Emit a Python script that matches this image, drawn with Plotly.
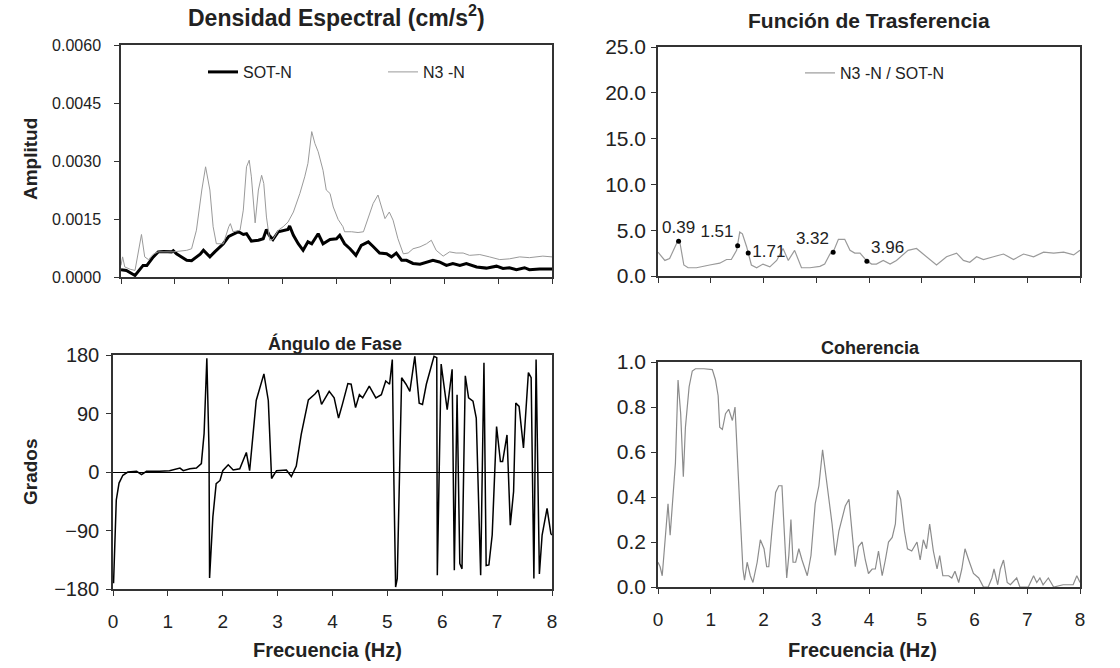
import plotly.graph_objects as go

# ---------------- data ----------------
sot_f = [0.0, 0.10, 0.26, 0.35, 0.41, 0.48, 0.60, 0.69, 0.79, 0.94, 0.97, 1.03, 1.22, 1.31, 1.47, 1.53,
         1.65, 1.74, 1.90, 2.00, 2.08, 2.18, 2.27, 2.33, 2.42, 2.55, 2.64, 2.70, 2.75, 2.82, 2.92, 3.01,
         3.10, 3.13, 3.20, 3.29, 3.38, 3.47, 3.54, 3.66, 3.75, 3.88, 4.00, 4.06, 4.15, 4.25, 4.36, 4.46,
         4.59, 4.68, 4.80, 4.93, 5.02, 5.11, 5.21, 5.30, 5.42, 5.55, 5.64, 5.79, 5.91, 6.04, 6.16, 6.29,
         6.41, 6.60, 6.78, 6.97, 7.09, 7.21, 7.34, 7.49, 7.58, 7.77, 8.00]
sot_a = [0.00019, 0.00017, 0.00004, 0.00020, 0.00030, 0.00030, 0.00052, 0.00065, 0.00066, 0.00065,
         0.00068, 0.00060, 0.00043, 0.00042, 0.00059, 0.00069, 0.00052, 0.00065, 0.00086, 0.00105,
         0.00110, 0.00117, 0.00110, 0.00112, 0.00093, 0.00095, 0.00099, 0.00123, 0.00108, 0.00097,
         0.00117, 0.00121, 0.00123, 0.00132, 0.00108, 0.00086, 0.00069, 0.00091, 0.00086, 0.00112,
         0.00086, 0.00097, 0.00099, 0.00108, 0.00086, 0.00073, 0.00056, 0.00082, 0.00091, 0.00079,
         0.00062, 0.00060, 0.00052, 0.00062, 0.00043, 0.00043, 0.00035, 0.00033, 0.00037, 0.00043,
         0.00039, 0.00030, 0.00035, 0.00030, 0.00035, 0.00026, 0.00023, 0.00028, 0.00022, 0.00024,
         0.00019, 0.00024, 0.00019, 0.00021, 0.00021]

n3_f = [0.0, 0.03, 0.07, 0.17, 0.26, 0.32, 0.38, 0.44, 0.51, 0.60, 0.69, 0.97, 1.22, 1.31, 1.40, 1.50,
        1.57, 1.65, 1.71, 1.77, 1.90, 2.00, 2.03, 2.08, 2.21, 2.27, 2.33, 2.38, 2.42, 2.49, 2.55, 2.61,
        2.65, 2.70, 2.76, 2.82, 2.92, 3.01, 3.10, 3.20, 3.32, 3.41, 3.47, 3.54, 3.60, 3.66, 3.75, 3.81,
        3.88, 3.94, 4.03, 4.12, 4.15, 4.28, 4.40, 4.50, 4.59, 4.68, 4.77, 4.83, 4.90, 4.98, 5.05, 5.14,
        5.24, 5.33, 5.42, 5.55, 5.67, 5.76, 5.85, 5.98, 6.10, 6.22, 6.35, 6.47, 6.66, 6.84, 7.03, 7.21,
        7.40, 7.58, 7.83, 8.00]
n3_a = [0.00030, 0.00052, 0.00026, 0.00020, 0.00017, 0.00069, 0.00110, 0.00052, 0.00045, 0.00059,
        0.00065, 0.00065, 0.00069, 0.00073, 0.00121, 0.00225, 0.00285, 0.00225, 0.00130, 0.00086,
        0.00086, 0.00130, 0.00138, 0.00117, 0.00121, 0.00173, 0.00285, 0.00302, 0.00259, 0.00140,
        0.00225, 0.00263, 0.00242, 0.00155, 0.00095, 0.00097, 0.00121, 0.00130, 0.00142, 0.00168,
        0.00216, 0.00259, 0.00294, 0.00376, 0.00345, 0.00324, 0.00276, 0.00225, 0.00216, 0.00181,
        0.00149, 0.00130, 0.00117, 0.00117, 0.00115, 0.00117, 0.00155, 0.00190, 0.00212, 0.00186,
        0.00151, 0.00168, 0.00147, 0.00099, 0.00060, 0.00062, 0.00073, 0.00078, 0.00086, 0.00095,
        0.00069, 0.00054, 0.00065, 0.00062, 0.00062, 0.00056, 0.00058, 0.00052, 0.00045, 0.00047,
        0.00052, 0.00050, 0.00054, 0.00052]

tf_f = [0.0, 0.13, 0.22, 0.32, 0.38, 0.42, 0.49, 0.57, 0.73, 0.98, 1.17, 1.30, 1.39, 1.49, 1.55, 1.60,
        1.68, 1.77, 1.87, 1.99, 2.12, 2.25, 2.37, 2.47, 2.59, 2.72, 2.88, 3.07, 3.16, 3.26, 3.32, 3.42,
        3.54, 3.64, 3.73, 3.83, 3.95, 4.05, 4.14, 4.27, 4.40, 4.52, 4.65, 4.74, 4.90, 5.09, 5.28, 5.47,
        5.66, 5.79, 5.91, 6.04, 6.17, 6.36, 6.55, 6.74, 6.93, 7.12, 7.31, 7.50, 7.69, 7.88, 8.00]
tf_v = [2.6, 1.7, 1.9, 3.2, 3.9, 3.5, 1.2, 0.9, 0.9, 1.2, 1.4, 1.8, 1.8, 2.8, 4.8, 4.6,
        3.2, 1.2, 0.9, 1.3, 1.0, 1.7, 3.0, 1.7, 2.8, 0.9, 0.9, 1.05, 1.3, 2.4, 2.6, 4.0,
        4.0, 2.8, 2.5, 2.5, 1.7, 1.3, 1.3, 1.7, 1.3, 1.7, 2.4, 2.8, 3.0, 2.1, 1.2, 2.1,
        2.5, 1.7, 1.5, 2.1, 1.8, 2.1, 2.4, 1.8, 2.4, 2.1, 2.6, 2.5, 2.6, 2.3, 2.8]

peak_f = [0.39, 1.51, 1.71, 3.32, 3.96]
peak_v = [3.8, 3.3, 2.5, 2.6, 1.6]
peak_labels = ["0.39", "1.51", "1.71", "3.32", "3.96"]

ph_f = [0.01, 0.03, 0.06, 0.11, 0.18, 0.27, 0.43, 0.52, 0.61, 0.85, 1.03, 1.22, 1.28, 1.40, 1.52, 1.61,
        1.66, 1.71, 1.75, 1.76, 1.82, 1.88, 1.95, 2.00, 2.10, 2.19, 2.31, 2.43, 2.49, 2.61, 2.75, 2.83,
        2.89, 2.98, 3.16, 3.25, 3.34, 3.43, 3.56, 3.68, 3.74, 3.80, 3.88, 3.94, 4.03, 4.11, 4.18, 4.28,
        4.34, 4.42, 4.49, 4.55, 4.67, 4.79, 4.89, 4.97, 5.04, 5.09, 5.12, 5.15, 5.18, 5.26, 5.34, 5.41,
        5.50, 5.58, 5.64, 5.71, 5.85, 5.90, 5.91, 5.98, 6.09, 6.18, 6.22, 6.27, 6.32, 6.36, 6.42, 6.48,
        6.56, 6.62, 6.70, 6.76, 6.80, 6.85, 6.91, 6.99, 7.06, 7.10, 7.18, 7.24, 7.30, 7.34, 7.40, 7.48,
        7.57, 7.62, 7.67, 7.71, 7.77, 7.82, 7.91, 7.98, 8.00]
ph_d = [-171, -120, -43, -17, -5, 0, 1, -4, 1, 1, 2, 6, 2, 5, 6, 13,
        59, 175, 33, -163, -69, -18, -13, 2, 11, 3, 5, 30, 2, 110, 151, 110,
        -10, 2, 3, -7, 9, 58, 111, 120, 126, 104, 115, 124, 114, 83, 104, 136,
        135, 99, 119, 114, 132, 114, 119, 140, 135, 173, -20, -177, -164, 145, 135, 124,
        178, 106, 104, 135, 178, 176, -159, 166, 96, 158, -151, 119, -141, -149, 148, 114,
        109, 83, -159, 168, -144, -143, -97, 70, 16, 16, 57, -82, -30, 106, 101, 37,
        153, 145, -164, 173, -157, -97, -56, -95, -97]

coh_f = [0.0, 0.04, 0.08, 0.15, 0.19, 0.23, 0.27, 0.33, 0.38, 0.43, 0.48, 0.52, 0.59, 0.65, 0.71, 0.87,
         1.03, 1.09, 1.14, 1.17, 1.22, 1.28, 1.34, 1.41, 1.46, 1.50, 1.56, 1.61, 1.64, 1.69, 1.75, 1.80,
         1.88, 1.94, 2.01, 2.06, 2.10, 2.16, 2.23, 2.29, 2.35, 2.38, 2.44, 2.48, 2.52, 2.56, 2.61, 2.67,
         2.73, 2.83, 2.90, 2.98, 3.05, 3.12, 3.17, 3.24, 3.30, 3.36, 3.43, 3.49, 3.55, 3.62, 3.68, 3.74,
         3.80, 3.87, 3.93, 3.99, 4.06, 4.12, 4.18, 4.25, 4.31, 4.37, 4.44, 4.50, 4.54, 4.60, 4.67, 4.73,
         4.81, 4.91, 4.97, 5.03, 5.09, 5.15, 5.22, 5.29, 5.34, 5.40, 5.51, 5.57, 5.63, 5.70, 5.76, 5.82,
         5.89, 5.98, 6.08, 6.17, 6.26, 6.33, 6.37, 6.44, 6.49, 6.55, 6.62, 6.68, 6.80, 6.86, 7.02, 7.12,
         7.18, 7.24, 7.30, 7.40, 7.50, 7.68, 7.87, 7.94, 8.00]
coh_v = [0.11, 0.09, 0.05, 0.28, 0.37, 0.23, 0.37, 0.55, 0.92, 0.77, 0.49, 0.71, 0.89, 0.96, 0.97, 0.97,
         0.966, 0.92, 0.85, 0.71, 0.70, 0.77, 0.79, 0.74, 0.80, 0.58, 0.31, 0.08, 0.03, 0.11, 0.05, 0.02,
         0.11, 0.21, 0.17, 0.09, 0.09, 0.25, 0.42, 0.45, 0.45, 0.31, 0.04, 0.14, 0.30, 0.11, 0.11, 0.17,
         0.12, 0.05, 0.14, 0.37, 0.45, 0.61, 0.51, 0.39, 0.28, 0.14, 0.25, 0.30, 0.36, 0.39, 0.25, 0.09,
         0.18, 0.20, 0.12, 0.06, 0.08, 0.08, 0.16, 0.05, 0.12, 0.20, 0.22, 0.28, 0.43, 0.39, 0.25, 0.17,
         0.16, 0.20, 0.12, 0.21, 0.17, 0.28, 0.16, 0.08, 0.14, 0.05, 0.05, 0.04, 0.07, 0.02, 0.08, 0.17,
         0.12, 0.06, 0.04, 0.0, 0.0, 0.04, 0.08, 0.01, 0.08, 0.12, 0.02, 0.01, 0.04, 0.0, 0.0, 0.05,
         0.02, 0.04, 0.01, 0.04, 0.0, 0.01, 0.01, 0.05, 0.02]

freq_ticks = [0, 1, 2, 3, 4, 5, 6, 7, 8]

# ---------------- figure ----------------
W, H = 1120, 668
FONT = "Liberation Sans, Arial, sans-serif"
NARROW = "Liberation Sans Narrow, Liberation Sans, Arial, sans-serif"
TXT = "#222"


def px_x(a, b):
    return [a / W, b / W]


def px_y(top, bottom):
    return [1 - bottom / H, 1 - top / H]


fig = go.Figure()

fig.add_trace(go.Scatter(x=sot_f, y=sot_a, mode="lines", name="SOT-N",
                         line=dict(color="black", width=3), xaxis="x", yaxis="y", legend="legend"))
fig.add_trace(go.Scatter(x=n3_f, y=n3_a, mode="lines", name="N3 -N",
                         line=dict(color="#9a9a9a", width=1), xaxis="x", yaxis="y", legend="legend"))

fig.add_trace(go.Scatter(x=tf_f, y=tf_v, mode="lines", name="N3 -N / SOT-N",
                         line=dict(color="#9a9a9a", width=1.2), xaxis="x2", yaxis="y2", legend="legend2"))
fig.add_trace(go.Scatter(x=peak_f, y=peak_v, mode="markers+text", text=peak_labels,
                         textposition=["top center", "top left", "middle right", "top left", "top right"],
                         textfont=dict(family=FONT, size=17, color=TXT),
                         marker=dict(color="black", size=5), showlegend=False,
                         xaxis="x2", yaxis="y2"))

fig.add_trace(go.Scatter(x=ph_f, y=ph_d, mode="lines", showlegend=False,
                         line=dict(color="black", width=1.5), xaxis="x3", yaxis="y3"))

fig.add_trace(go.Scatter(x=coh_f, y=coh_v, mode="lines", showlegend=False,
                         line=dict(color="#8c8c8c", width=1.2), xaxis="x4", yaxis="y4"))


def axis(size, standoff, **kw):
    d = dict(showline=True, mirror=True, linecolor="#333", linewidth=1.5,
             showgrid=False, zeroline=False, ticks="outside", ticklen=5,
             tickcolor="#333", tickfont=dict(family=FONT, size=size, color=TXT),
             ticklabelstandoff=standoff)
    d.update(kw)
    return d


xtop = dict(range=[0, 8], tickvals=freq_ticks, showticklabels=False)
xbot = dict(range=[0, 8], tickvals=freq_ticks)

fig.update_layout(
    width=W, height=H,
    margin=dict(l=0, r=0, t=0, b=0, pad=0, autoexpand=False),
    paper_bgcolor="white", plot_bgcolor="white",
    font=dict(family=FONT, color=TXT),
    xaxis=axis(19, 12, domain=px_x(121, 552), anchor="y", **xtop),
    yaxis=axis(16, 10, domain=px_y(45, 277), anchor="x", range=[0, 0.006],
               dtick=0.0015, tickformat=".4f"),
    xaxis2=axis(19, 12, domain=px_x(658, 1080), anchor="y2", **xtop),
    yaxis2=axis(21, 1, domain=px_y(47, 276), anchor="x2", range=[0, 25],
                dtick=5, tickformat=".1f"),
    xaxis3=axis(19, 9, domain=px_x(113, 552), anchor="y3", **xbot),
    yaxis3=axis(20, 3, domain=px_y(355, 589), anchor="x3", range=[-180, 180],
                tickvals=[-180, -90, 0, 90, 180], zeroline=True, zerolinecolor="black",
                zerolinewidth=1),
    xaxis4=axis(19, 9, domain=px_x(658, 1080), anchor="y4", **xbot),
    yaxis4=axis(21, 1, domain=px_y(362, 587), anchor="x4", range=[0, 1],
                dtick=0.2, tickformat=".1f"),
    legend=dict(orientation="h", x=203 / W, y=1 - 72 / H, xanchor="left", yanchor="middle",
                entrywidth=135, entrywidthmode="pixels", bgcolor="rgba(0,0,0,0)",
                font=dict(family=FONT, size=16, color=TXT), itemwidth=30),
    legend2=dict(orientation="h", x=800 / W, y=1 - 73 / H, xanchor="left", yanchor="middle",
                 bgcolor="rgba(0,0,0,0)", font=dict(family=FONT, size=16, color=TXT),
                 itemwidth=30),
)

titles = [
    ("Densidad Espectral (cm/s<sup>2</sup>)", 336, 16, 23),
    ("Función de Trasferencia", 869, 20, 21),
    ("Ángulo de Fase", 335, 344, 18),
    ("Coherencia", 870, 348, 18),
]
for text, cx, cy, size in titles:
    fig.add_annotation(text=f"<b>{text}</b>", x=cx / W, y=1 - cy / H, xref="paper", yref="paper",
                       xanchor="center", yanchor="middle", showarrow=False,
                       font=dict(family=FONT, size=size, color=TXT))

for text, cy in [("Amplitud", 159), ("Grados", 472)]:
    fig.add_annotation(text=f"<b>{text}</b>", x=30 / W, y=1 - cy / H, xref="paper", yref="paper",
                       xanchor="center", yanchor="middle", showarrow=False, textangle=-90,
                       font=dict(family=FONT, size=19, color=TXT))

for cx in [327, 862]:
    fig.add_annotation(text="<b>Frecuencia (Hz)</b>", x=cx / W, y=1 - 650 / H, xref="paper",
                       yref="paper", xanchor="center", yanchor="middle", showarrow=False,
                       font=dict(family=NARROW, size=20, color=TXT))

fig.write_html("out.html")
